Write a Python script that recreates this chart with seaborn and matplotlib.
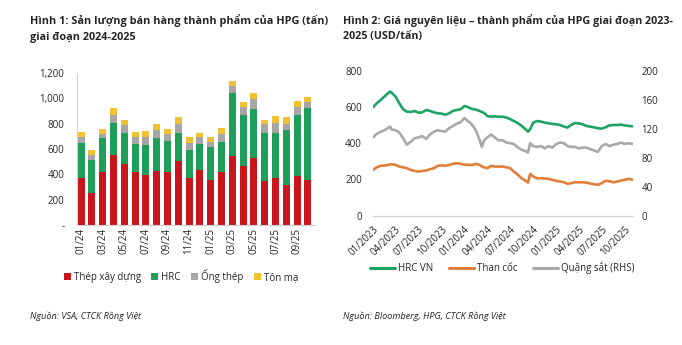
import matplotlib
matplotlib.use("Agg")
import numpy as np
import pandas as pd
import matplotlib.pyplot as plt
import matplotlib.dates as mdates
import matplotlib.font_manager as fm
from matplotlib.ticker import FuncFormatter
from matplotlib.patches import Patch
from matplotlib.lines import Line2D
import seaborn as sns

# ---------------- Data: left chart (monthly sales, thousand tonnes) ----------------
months = ["01/24", "02/24", "03/24", "04/24", "05/24", "06/24", "07/24", "08/24",
          "09/24", "10/24", "11/24", "12/24", "01/25", "02/25", "03/25", "04/25",
          "05/25", "06/25", "07/25", "08/25", "09/25", "10/25"]
thep_xay_dung = [373, 249, 418, 549, 483, 415, 394, 428, 420, 507, 373,
                 431, 357, 420, 546, 467, 530, 344, 373, 318, 389, 355]
hrc = [276, 268, 265, 257, 244, 228, 236, 260, 247, 220, 223,
       207, 260, 237, 499, 402, 386, 383, 354, 430, 478, 569]
ong_thep = [42, 34, 39, 61, 61, 48, 61, 60, 55, 74, 53,
            53, 40, 65, 50, 63, 77, 69, 82, 48, 65, 50]
ton_ma = [44, 40, 34, 57, 44, 47, 52, 48, 37, 55, 42,
          34, 36, 42, 39, 40, 50, 36, 55, 55, 45, 37]
bar_series = ["Thép xây dựng", "HRC", "Ống thép", "Tôn mạ"]

# ---------------- Data: right chart (prices) ----------------
dates = ["2023-01-01", "2023-01-16", "2023-02-01", "2023-02-15", "2023-03-01", "2023-03-10",
         "2023-03-16", "2023-04-01", "2023-04-16", "2023-05-01", "2023-05-16", "2023-06-01",
         "2023-06-16", "2023-07-01", "2023-07-16", "2023-08-01", "2023-08-16", "2023-09-01",
         "2023-09-16", "2023-10-01", "2023-10-16", "2023-11-01", "2023-11-16", "2023-12-01",
         "2023-12-16", "2024-01-01", "2024-01-10", "2024-01-16", "2024-01-22", "2024-02-01",
         "2024-02-15", "2024-03-01", "2024-03-10", "2024-03-19", "2024-04-01", "2024-04-16",
         "2024-05-01", "2024-05-16", "2024-06-01", "2024-06-16", "2024-07-01", "2024-07-16",
         "2024-08-01", "2024-08-16", "2024-09-01", "2024-09-10", "2024-09-19", "2024-10-01",
         "2024-10-16", "2024-11-01", "2024-11-16", "2024-12-01", "2024-12-16", "2025-01-01",
         "2025-01-16", "2025-02-01", "2025-02-15", "2025-03-01", "2025-03-16", "2025-04-01",
         "2025-04-16", "2025-05-01", "2025-05-16", "2025-06-01", "2025-06-16", "2025-07-01",
         "2025-07-16", "2025-08-01", "2025-08-16", "2025-09-01", "2025-09-16", "2025-10-01",
         "2025-10-16", "2025-11-01"]
hrc_vn = [599, 621, 640, 658, 676, 686, 680, 658, 621, 588,
          575, 573, 579, 569, 571, 584, 579, 571, 566, 564,
          558, 566, 579, 584, 588, 606, 603, 599, 595, 590,
          586, 579, 573, 568, 551, 547, 549, 547, 547, 542,
          534, 523, 511, 496, 477, 464, 478, 514, 523, 520,
          514, 511, 507, 505, 501, 492, 487, 501, 512, 510,
          505, 496, 492, 488, 483, 481, 488, 499, 501, 501,
          503, 499, 496, 494]
than_coc = [252, 267, 276, 276, 280, 282, 284, 280, 271, 267,
            262, 252, 247, 243, 247, 249, 256, 262, 275, 278,
            275, 280, 286, 289, 286, 282, 281, 280, 281, 280,
            286, 280, 272, 266, 262, 275, 271, 271, 271, 267,
            262, 243, 225, 206, 192, 182, 230, 216, 206, 206,
            205, 203, 197, 192, 188, 184, 175, 179, 184, 184,
            184, 182, 177, 173, 170, 179, 192, 190, 184, 188,
            194, 197, 203, 199]
quang_sat = [108, 113, 116, 118, 121, 123, 119, 118, 115, 107,
             98, 102, 107, 108, 110, 106, 112, 116, 118, 117,
             116, 121, 124, 127, 129, 135, 132, 130, 129, 125,
             118, 105, 95, 104, 108, 112, 108, 104, 104, 101,
             100, 99, 94, 91, 89, 87, 100, 96, 95, 96,
             93, 96, 94, 99, 101, 100, 96, 95, 95, 93,
             94, 94, 92, 90, 88, 96, 99, 96, 98, 99,
             101, 99, 100, 99]
line_series = ["HRC VN", "Than cốc", "Quặng sắt (RHS)"]

# ---------------- Style ----------------
sns.set_theme(style="white")
avail = {f.name for f in fm.fontManager.ttflist}
BASE = "Open Sans" if "Open Sans" in avail else "DejaVu Sans"
NARROW = "Liberation Sans Narrow" if "Liberation Sans Narrow" in avail else BASE
plt.rcParams["font.family"] = [BASE, "DejaVu Sans"]

RED, GREEN, GRAY, YELLOW = "#C8161D", "#1E9E58", "#A6A6A6", "#F0C232"
L_GREEN, L_ORANGE, L_GRAY = "#1FA463", "#E27D3A", "#A9A9A9"
TXT = "#262626"
SPINE = "#D0D0D0"
W, H = 682, 345

fig = plt.figure(figsize=(W / 100, H / 100), dpi=100)

# ---------------- Left chart ----------------
ax1 = fig.add_axes([77 / W, 120 / H, 238 / W, 152 / H])
red = np.array(thep_xay_dung)
c2 = red + np.array(hrc)
c3 = c2 + np.array(ong_thep)
c4 = c3 + np.array(ton_ma)
for vals, col in [(c4, YELLOW), (c3, GRAY), (c2, GREEN), (red, RED)]:
    sns.barplot(x=months, y=vals, color=col, width=0.65, saturation=1,
                edgecolor="none", linewidth=0, ax=ax1)
ax1.set_xlim(-0.37, 21.65)
ax1.set_ylim(0, 1200)
ax1.set_yticks(range(0, 1201, 200))
ax1.yaxis.set_major_formatter(FuncFormatter(lambda v, p: "-" if v == 0 else f"{v:,.0f}"))
ax1.set_xticks(range(0, 22, 2))
ax1.set_xticklabels(months[::2], rotation=90)
ax1.tick_params(axis="both", length=0, labelsize=7, colors=TXT)
ax1.tick_params(axis="y", pad=9)
ax1.tick_params(axis="x", pad=2)
ax1.set_xlabel("")
ax1.set_ylabel("")
for s in ["top", "right"]:
    ax1.spines[s].set_visible(False)
for s in ["left", "bottom"]:
    ax1.spines[s].set_color(SPINE)
    ax1.spines[s].set_linewidth(0.8)

bar_handles = [Patch(facecolor=c, edgecolor="none", label=l)
               for c, l in zip([RED, GREEN, GRAY, YELLOW], bar_series)]
fig.legend(handles=bar_handles, loc="center", bbox_to_anchor=(181 / W, 1 - 276 / H),
           ncol=4, frameon=False, fontsize=7, handlelength=0.7, handleheight=0.7,
           handletextpad=0.3, columnspacing=1.1, labelcolor=TXT)

# ---------------- Right chart ----------------
ax2 = fig.add_axes([373 / W, 129.5 / H, 260 / W, 144.5 / H])
dts = pd.to_datetime(dates)
sns.lineplot(x=dts, y=hrc_vn, color=L_GREEN, lw=1.9, ax=ax2)
sns.lineplot(x=dts, y=than_coc, color=L_ORANGE, lw=1.9, ax=ax2)
ax3 = ax2.twinx()
sns.lineplot(x=dts, y=quang_sat, color=L_GRAY, lw=1.9, ax=ax3)
ax2.set_ylim(0, 800)
ax2.set_yticks(range(0, 801, 200))
ax3.set_ylim(0, 200)
ax3.set_yticks(range(0, 201, 40))
ax2.set_xlim(pd.Timestamp("2023-01-01"), pd.Timestamp("2025-11-03"))
ax2.xaxis.set_major_locator(mdates.MonthLocator(bymonth=[1, 4, 7, 10]))
ax2.xaxis.set_major_formatter(mdates.DateFormatter("%m/%Y"))
for lab in ax2.get_xticklabels():
    lab.set_rotation(45)
    lab.set_ha("right")
    lab.set_rotation_mode("anchor")
ax2.tick_params(axis="x", length=3, width=0.8, color=SPINE, labelsize=7, colors=TXT, pad=3)
ax2.tick_params(axis="x", colors=TXT)
ax2.tick_params(axis="y", length=0, labelsize=7, colors=TXT, pad=8)
ax3.tick_params(axis="y", length=0, labelsize=7, colors=TXT, pad=6)
for a in (ax2, ax3):
    a.set_xlabel("")
    a.set_ylabel("")
    for s in ["top", "left", "right"]:
        a.spines[s].set_visible(False)
    a.spines["bottom"].set_color(SPINE)
    a.spines["bottom"].set_linewidth(0.8)
    a.grid(False)

line_handles = [Line2D([0], [0], color=c, lw=2.2, label=l)
                for c, l in zip([L_GREEN, L_ORANGE, L_GRAY], line_series)]
fig.legend(handles=line_handles, loc="center", bbox_to_anchor=(502 / W, 1 - 268 / H),
           ncol=3, frameon=False, fontsize=7, handlelength=2.6,
           handletextpad=0.3, columnspacing=1.6, labelcolor=TXT)

# ---------------- Titles & sources ----------------
t1a = fig.text(30 / W, 1 - 20 / H, "Hình 1: Sản lượng bán hàng thành phẩm của HPG (tấn)",
               family=[NARROW, "DejaVu Sans"], weight="bold", fontsize=9, color=TXT, va="center")
t1b = fig.text(30 / W, 1 - 37 / H, "giai đoạn 2024-2025",
               family=[NARROW, "DejaVu Sans"], weight="bold", fontsize=9, color=TXT, va="center")
t2a = fig.text(343 / W, 1 - 20 / H, "Hình 2: Giá nguyên liệu – thành phẩm của HPG giai đoạn 2023-",
               family=[NARROW, "DejaVu Sans"], weight="bold", fontsize=9, color=TXT, va="center")
t2b = fig.text(343 / W, 1 - 37 / H, "2025 (USD/tấn)",
               family=[NARROW, "DejaVu Sans"], weight="bold", fontsize=9, color=TXT, va="center")

renderer = fig.canvas.get_renderer()
for first, second, target in [(t1a, t1b, 295), (t2a, t2b, 331)]:
    w = first.get_window_extent(renderer=renderer).width
    size = 9 * target / w
    first.set_fontsize(size)
    second.set_fontsize(size)

fig.text(30 / W, 1 - 316 / H, "Nguồn: VSA, CTCK Rồng Việt", style="italic",
         fontsize=6.6, color=TXT, va="center")
fig.text(343 / W, 1 - 316 / H, "Nguồn: Bloomberg, HPG, CTCK Rồng Việt", style="italic",
         fontsize=6.6, color=TXT, va="center")

fig.savefig("out.png", dpi=100, facecolor="white")
